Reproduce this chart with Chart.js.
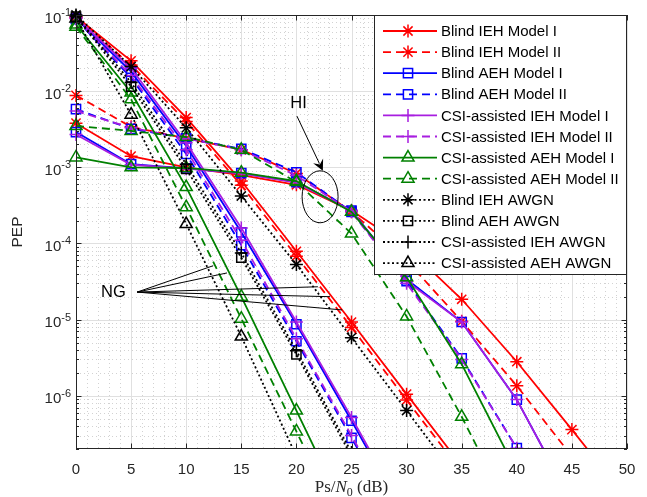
<!DOCTYPE html>
<html>
<head>
<meta charset="utf-8">
<title>PEP vs Ps/N0</title>
<script src="https://cdn.jsdelivr.net/npm/chart.js@4.4.1/dist/chart.umd.min.js"></script>
<style>
  html, body { margin: 0; padding: 0; background: #fff; }
  #wrap { position: relative; width: 647px; height: 497px; }
</style>
</head>
<body>
<div id="wrap"><canvas id="pep"></canvas></div>
<script>
// SNR points (dB) shared by every curve
const snr = [0, 5, 10, 15, 20, 25, 30, 35, 40, 45, 50];

// curves with hardware impairments (HI)
const blindIehM1Hi = [3.8e-3, 1.4e-3, 1.0e-3, 7.9e-4, 5.9e-4, 2.7e-4, 9.0e-5, 1.85e-5, 2.8e-6, 3.6e-7, 4.4e-8];
const blindIehM2Hi = [8.8e-3, 3.4e-3, 2.4e-3, 1.7e-3, 8.3e-4, 2.6e-4, 6.0e-5, 9.5e-6, 1.35e-6, 1.6e-7];
const blindAehM1Hi = [2.9e-3, 1.1e-3, 9.7e-4, 8.4e-4, 6.4e-4, 2.7e-4, 3.4e-5, 9.3e-6, 8.9e-7, 4.0e-8];
const blindAehM2Hi = [5.8e-3, 3.2e-3, 2.4e-3, 1.75e-3, 8.6e-4, 2.6e-4, 3.2e-5, 3.1e-6, 2.05e-7, 1.2e-8];
const csiIehM1Hi = [2.7e-3, 1.08e-3, 9.6e-4, 8.3e-4, 6.3e-4, 2.7e-4, 3.2e-5, 9.3e-6, 8.9e-7, 4.0e-8];
const csiIehM2Hi = [5.5e-3, 3.3e-3, 2.4e-3, 1.7e-3, 7.8e-4, 2.6e-4, 3.0e-5, 3.0e-6, 2.05e-7, 1.2e-8];
const csiAehM1Hi = [1.35e-3, 1.0e-3, 9.8e-4, 8.5e-4, 6.6e-4, 2.6e-4, 3.6e-5, 2.6e-6, 1.0e-7];
const csiAehM2Hi = [3.5e-3, 3.0e-3, 2.5e-3, 1.7e-3, 6.4e-4, 1.35e-4, 1.1e-5, 5.3e-7, 2.0e-8];

// curves without impairments (NG)
const blindIehM1Ng = [9.5e-2, 2.5e-2, 4.5e-3, 6.6e-4, 7.9e-5, 9.3e-6, 1.05e-6, 1.2e-7];
const blindIehM2Ng = [9.2e-2, 2.2e-2, 4.0e-3, 5.8e-4, 6.8e-5, 7.9e-6, 8.8e-7, 1.0e-7];
const blindAehM1Ng = [9.0e-2, 1.8e-2, 1.9e-3, 1.4e-4, 8.7e-6, 4.7e-7, 2.4e-8];
const blindAehM2Ng = [8.8e-2, 1.5e-2, 1.5e-3, 9.5e-5, 5.2e-6, 2.8e-7, 1.4e-8];
const csiIehM1Ng = [9.2e-2, 2.0e-2, 2.1e-3, 1.6e-4, 9.3e-6, 5.2e-7, 2.6e-8];
const csiIehM2Ng = [9.0e-2, 1.6e-2, 1.7e-3, 1.1e-4, 5.6e-6, 3.0e-7, 1.5e-8];
const csiAehM1Ng = [7.5e-2, 9.6e-3, 5.5e-4, 2.0e-5, 6.4e-7, 2.0e-8];
const csiAehM2Ng = [7.0e-2, 7.8e-3, 3.0e-4, 1.03e-5, 3.4e-7, 1.1e-8];

// AWGN reference curves
const blindIehAwgn = [1.0e-1, 2.1e-2, 3.3e-3, 4.2e-4, 5.3e-5, 5.8e-6, 6.4e-7, 7.0e-8];
const blindAehAwgn = [9.5e-2, 1.15e-2, 9.5e-4, 6.5e-5, 3.5e-6, 1.6e-7];
const csiIehAwgn = [9.7e-2, 1.3e-2, 1.1e-3, 7.5e-5, 3.9e-6, 1.8e-7];
const csiAehAwgn = [9.0e-2, 4.9e-3, 1.8e-4, 6.0e-6, 1.6e-7];

// axis ticks
const xTicks = [0, 5, 10, 15, 20, 25, 30, 35, 40, 45, 50];
const yExponents = [-1, -2, -3, -4, -5, -6];
const xLimits = [0, 50];
const yLimits = [2e-7, 1e-1];

const RED = '#ff0000', BLUE = '#0000ff', PURPLE = '#a81ee0', GREEN = '#008000', BLACK = '#000000';
const SOLID = [], DASHED = [8, 5], DOTTED = [2, 2.5];
const AXIS = '#262626';
const SANS = '"Liberation Sans", Arial, Helvetica, sans-serif';
const SERIF = '"Liberation Serif", "Times New Roman", serif';

const series = [
  { label: 'Blind IEH Model I', color: RED, dash: SOLID, marker: 'star', r: 6.5, curves: [blindIehM1Hi, blindIehM1Ng] },
  { label: 'Blind IEH Model II', color: RED, dash: DASHED, marker: 'star', r: 6.5, curves: [blindIehM2Hi, blindIehM2Ng] },
  { label: 'Blind AEH Model I', color: BLUE, dash: SOLID, marker: 'rect', r: 6.5, curves: [blindAehM1Hi, blindAehM1Ng] },
  { label: 'Blind AEH Model II', color: BLUE, dash: DASHED, marker: 'rect', r: 6.5, curves: [blindAehM2Hi, blindAehM2Ng] },
  { label: 'CSI-assisted IEH Model I', color: PURPLE, dash: SOLID, marker: 'cross', r: 6.5, curves: [csiIehM1Hi, csiIehM1Ng] },
  { label: 'CSI-assisted IEH Model II', color: PURPLE, dash: DASHED, marker: 'cross', r: 6.5, curves: [csiIehM2Hi, csiIehM2Ng] },
  { label: 'CSI-assisted AEH Model I', color: GREEN, dash: SOLID, marker: 'triangle', r: 7, curves: [csiAehM1Hi, csiAehM1Ng] },
  { label: 'CSI-assisted AEH Model II', color: GREEN, dash: DASHED, marker: 'triangle', r: 7, curves: [csiAehM2Hi, csiAehM2Ng] },
  { label: 'Blind IEH AWGN', color: BLACK, dash: DOTTED, marker: 'star', r: 6.5, curves: [blindIehAwgn] },
  { label: 'Blind AEH AWGN', color: BLACK, dash: DOTTED, marker: 'rect', r: 6.5, curves: [blindAehAwgn] },
  { label: 'CSI-assisted IEH AWGN', color: BLACK, dash: DOTTED, marker: 'cross', r: 6.5, curves: [csiIehAwgn] },
  { label: 'CSI-assisted AEH AWGN', color: BLACK, dash: DOTTED, marker: 'triangle', r: 7, curves: [csiAehAwgn] }
];

// text annotations, placed in data units
const hiNote = { text: 'HI', at: [20.2, 6.8e-3], from: [20.05, 4.7e-3], to: [22.4, 9.0e-4], ring: [22.15, 4.1e-4] };
const ngNote = { text: 'NG', at: [3.4, 2.25e-5], from: [5.55, 2.3e-5],
  to: [[12.45, 5.1e-5], [13.7, 4.1e-5], [21.95, 2.7e-5], [23.05, 2.0e-5], [24.15, 1.34e-5]] };

const datasets = [];
series.forEach(s => {
  s.curves.forEach(vals => {
    datasets.push({
      label: s.label,
      data: vals.map((v, k) => ({ x: snr[k], y: v })),
      borderColor: s.color,
      borderWidth: 1.8,
      borderDash: s.dash,
      pointStyle: s.marker,
      pointRadius: s.r,
      pointHoverRadius: s.r,
      pointBorderColor: s.color,
      pointBackgroundColor: 'rgba(0,0,0,0)',
      pointBorderWidth: 1.5,
      tension: 0,
      fill: false,
      clip: { left: 9, top: 9, right: 0, bottom: 0 },
      order: -datasets.length
    });
  });
});

// same shapes Chart.js uses for its point styles
function drawMarker(ctx, style, x, y, r) {
  ctx.beginPath();
  if (style === 'rect') {
    const s = r * Math.SQRT1_2;
    ctx.rect(x - s, y - s, 2 * s, 2 * s);
  } else if (style === 'triangle') {
    let a = 0;
    ctx.moveTo(x + Math.sin(a) * r, y - Math.cos(a) * r);
    a += 2 * Math.PI / 3;
    ctx.lineTo(x + Math.sin(a) * r, y - Math.cos(a) * r);
    a += 2 * Math.PI / 3;
    ctx.lineTo(x + Math.sin(a) * r, y - Math.cos(a) * r);
    ctx.closePath();
  } else {
    ctx.moveTo(x - r, y); ctx.lineTo(x + r, y);
    ctx.moveTo(x, y - r); ctx.lineTo(x, y + r);
    if (style === 'star') {
      const d = r * Math.SQRT1_2;
      ctx.moveTo(x - d, y - d); ctx.lineTo(x + d, y + d);
      ctx.moveTo(x - d, y + d); ctx.lineTo(x + d, y - d);
    }
  }
  ctx.stroke();
}

const gridPlugin = {
  id: 'gridLines',
  beforeDatasetsDraw(chart) {
    const { ctx, chartArea: a, scales: { x, y } } = chart;
    ctx.save();
    ctx.lineWidth = 1;
    // minor grid, dotted
    ctx.strokeStyle = '#d2d2d2';
    ctx.setLineDash([1, 3]);
    ctx.beginPath();
    for (let v = xLimits[0] + 1; v < xLimits[1]; v++) {
      if (v % 5 === 0) continue;
      const px = Math.round(x.getPixelForValue(v)) + 0.5;
      ctx.moveTo(px, a.top); ctx.lineTo(px, a.bottom);
    }
    for (let e = -7; e <= -2; e++) {
      for (let k = 2; k <= 9; k++) {
        const v = k * Math.pow(10, e);
        if (v <= yLimits[0] || v >= yLimits[1]) continue;
        const py = Math.round(y.getPixelForValue(v)) + 0.5;
        ctx.moveTo(a.left, py); ctx.lineTo(a.right, py);
      }
    }
    ctx.stroke();
    // major grid
    ctx.setLineDash([]);
    ctx.strokeStyle = '#e0e0e0';
    ctx.beginPath();
    xTicks.forEach(v => {
      const px = Math.round(x.getPixelForValue(v)) + 0.5;
      ctx.moveTo(px, a.top); ctx.lineTo(px, a.bottom);
    });
    yExponents.forEach(e => {
      const py = Math.round(y.getPixelForValue(Math.pow(10, e))) + 0.5;
      ctx.moveTo(a.left, py); ctx.lineTo(a.right, py);
    });
    ctx.stroke();
    ctx.restore();
  }
};

const framePlugin = {
  id: 'frame',
  afterDatasetsDraw(chart) {
    const { ctx, chartArea: a, scales: { x, y } } = chart;
    ctx.save();

    // axes box with inward ticks
    ctx.strokeStyle = AXIS;
    ctx.lineWidth = 1;
    ctx.setLineDash([]);
    ctx.strokeRect(a.left + 0.5, a.top + 0.5, a.right - a.left - 1, a.bottom - a.top - 1);
    ctx.beginPath();
    xTicks.forEach(v => {
      const px = Math.round(x.getPixelForValue(v)) + 0.5;
      ctx.moveTo(px, a.bottom); ctx.lineTo(px, a.bottom - 5.5);
      ctx.moveTo(px, a.top); ctx.lineTo(px, a.top + 5.5);
    });
    for (let e = -7; e <= -1; e++) {
      for (let k = 1; k <= 9; k++) {
        const v = k * Math.pow(10, e);
        if (v < yLimits[0] || v > yLimits[1]) continue;
        const len = k === 1 ? 5.5 : 3;
        const py = Math.round(y.getPixelForValue(v)) + 0.5;
        ctx.moveTo(a.left, py); ctx.lineTo(a.left + len, py);
        ctx.moveTo(a.right, py); ctx.lineTo(a.right - len, py);
      }
    }
    ctx.stroke();

    // tick labels
    ctx.fillStyle = AXIS;
    ctx.textBaseline = 'alphabetic';
    ctx.font = '15px ' + SANS;
    ctx.textAlign = 'center';
    xTicks.forEach(v => ctx.fillText(String(v), x.getPixelForValue(v), a.bottom + 24.5));
    ctx.textAlign = 'left';
    yExponents.forEach(e => {
      const py = y.getPixelForValue(Math.pow(10, e));
      ctx.font = '15px ' + SANS;
      const w1 = ctx.measureText('10').width;
      ctx.font = '11px ' + SANS;
      const sup = String(e);
      const w2 = ctx.measureText(sup).width;
      const x0 = a.left - 5 - w1 - w2;
      ctx.font = '15px ' + SANS;
      ctx.fillText('10', x0, py + 7.5);
      ctx.font = '11px ' + SANS;
      ctx.fillText(sup, x0 + w1, py + 1);
    });

    // axis titles
    ctx.save();
    ctx.translate(a.left - 54, (a.top + a.bottom) / 2);
    ctx.rotate(-Math.PI / 2);
    ctx.textAlign = 'center';
    ctx.font = '15.5px ' + SANS;
    ctx.fillText('PEP', 0, 0);
    ctx.restore();

    const parts = [
      { t: 'Ps/', f: '17px ' + SERIF, dy: 0 },
      { t: 'N', f: 'italic 17px ' + SERIF, dy: 0 },
      { t: '0', f: '12px ' + SERIF, dy: 3.5 },
      { t: ' (dB)', f: '17px ' + SERIF, dy: 0 }
    ];
    let total = 0;
    parts.forEach(p => { ctx.font = p.f; p.w = ctx.measureText(p.t).width; total += p.w; });
    let cx = (a.left + a.right) / 2 - total / 2;
    ctx.textAlign = 'left';
    parts.forEach(p => { ctx.font = p.f; ctx.fillText(p.t, cx, a.bottom + 43 + p.dy); cx += p.w; });

    // HI / NG annotations
    ctx.fillStyle = '#000';
    ctx.strokeStyle = '#000';
    ctx.font = '16.5px ' + SANS;
    ctx.textAlign = 'center';
    ctx.textBaseline = 'middle';
    ctx.fillText(hiNote.text, x.getPixelForValue(hiNote.at[0]), y.getPixelForValue(hiNote.at[1]));
    ctx.fillText(ngNote.text, x.getPixelForValue(ngNote.at[0]), y.getPixelForValue(ngNote.at[1]));

    const fx = x.getPixelForValue(hiNote.from[0]), fy = y.getPixelForValue(hiNote.from[1]);
    const tx = x.getPixelForValue(hiNote.to[0]), ty = y.getPixelForValue(hiNote.to[1]);
    const ang = Math.atan2(ty - fy, tx - fx);
    ctx.lineWidth = 1;
    ctx.beginPath();
    ctx.moveTo(fx, fy);
    ctx.lineTo(tx - 8 * Math.cos(ang), ty - 8 * Math.sin(ang));
    ctx.stroke();
    const hl = 11, hw = 5.5;
    ctx.beginPath();
    ctx.moveTo(tx, ty);
    ctx.lineTo(tx - hl * Math.cos(ang) + hw * Math.sin(ang), ty - hl * Math.sin(ang) - hw * Math.cos(ang));
    ctx.lineTo(tx - 7 * Math.cos(ang), ty - 7 * Math.sin(ang));
    ctx.lineTo(tx - hl * Math.cos(ang) - hw * Math.sin(ang), ty - hl * Math.sin(ang) + hw * Math.cos(ang));
    ctx.closePath();
    ctx.fill();

    ctx.beginPath();
    ctx.ellipse(x.getPixelForValue(hiNote.ring[0]), y.getPixelForValue(hiNote.ring[1]), 18, 26, 0, 0, 2 * Math.PI);
    ctx.stroke();

    const ox = x.getPixelForValue(ngNote.from[0]), oy = y.getPixelForValue(ngNote.from[1]);
    ctx.beginPath();
    ngNote.to.forEach(([vx, vy]) => {
      ctx.moveTo(ox, oy);
      ctx.lineTo(x.getPixelForValue(vx), y.getPixelForValue(vy));
    });
    ctx.stroke();

    // legend in the upper right corner of the axes
    const lw = 253, lh = 260;
    const lx = a.right - lw, ly = a.top;
    ctx.fillStyle = '#fff';
    ctx.fillRect(lx, ly, lw, lh);
    ctx.strokeStyle = AXIS;
    ctx.strokeRect(lx + 0.5, ly + 0.5, lw - 1, lh - 1);
    ctx.font = '15px ' + SANS;
    ctx.textAlign = 'left';
    ctx.textBaseline = 'middle';
    series.forEach((s, i) => {
      const ry = ly + 16 + i * 21.1;
      ctx.strokeStyle = s.color;
      ctx.lineWidth = 1.8;
      ctx.setLineDash(s.dash);
      ctx.beginPath();
      ctx.moveTo(lx + 9, ry); ctx.lineTo(lx + 63, ry);
      ctx.stroke();
      ctx.setLineDash([]);
      ctx.lineWidth = 1.5;
      drawMarker(ctx, s.marker, lx + 34, ry, s.r);
      ctx.fillStyle = '#000';
      ctx.fillText(s.label, lx + 67, ry + 1);
    });

    ctx.restore();
  }
};

new Chart(document.getElementById('pep'), {
  type: 'line',
  data: { datasets },
  options: {
    responsive: true,
    maintainAspectRatio: false,
    animation: false,
    devicePixelRatio: 1,
    events: [],
    layout: { padding: { left: 76, right: 20, top: 15, bottom: 48 } },
    plugins: { legend: { display: false }, tooltip: { enabled: false } },
    scales: {
      x: { type: 'linear', min: xLimits[0], max: xLimits[1], display: false },
      y: { type: 'logarithmic', min: yLimits[0], max: yLimits[1], display: false }
    }
  },
  plugins: [gridPlugin, framePlugin]
});
</script>
</body>
</html>
